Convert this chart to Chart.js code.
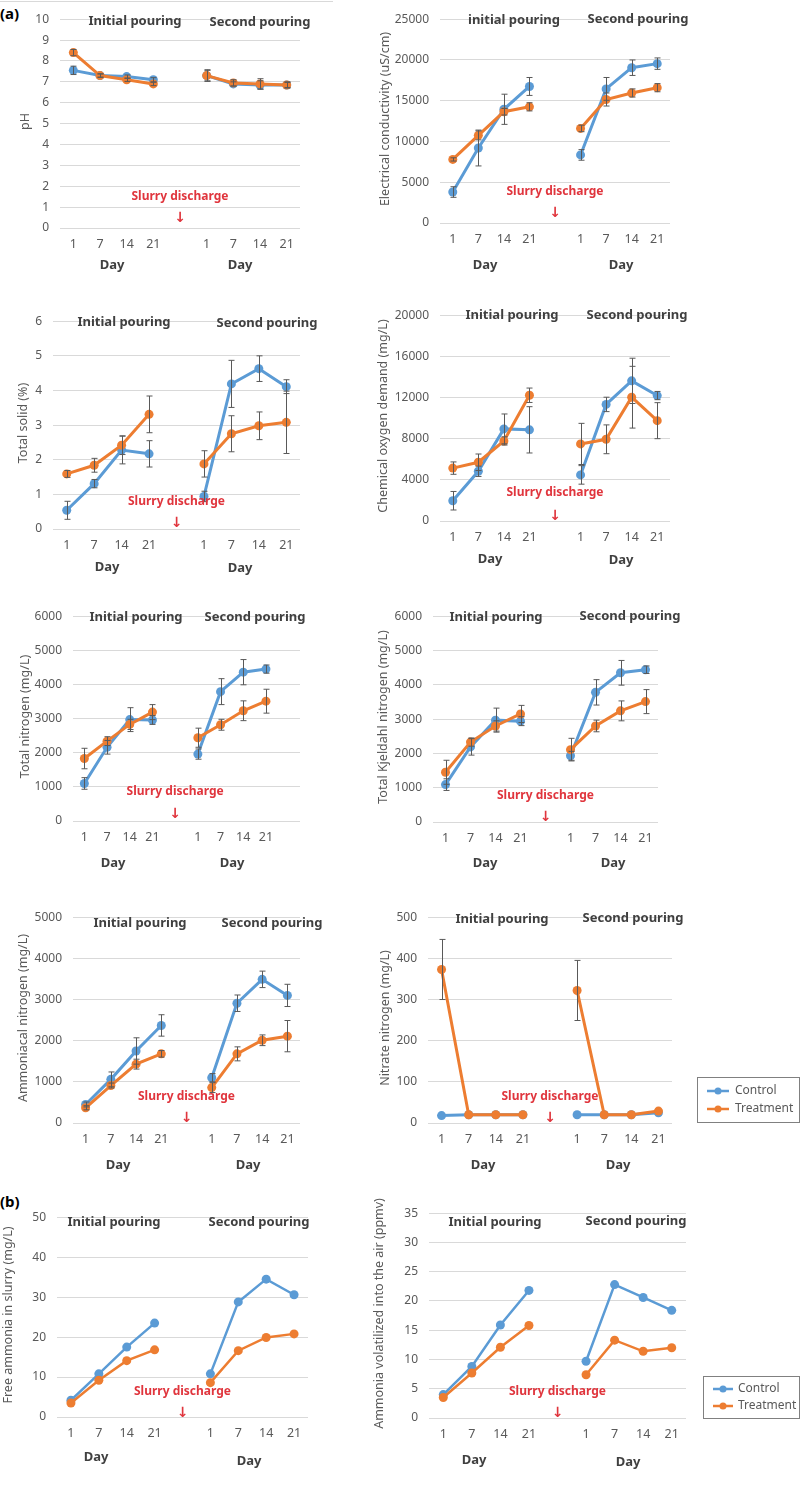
<!DOCTYPE html>
<html>
<head>
<meta charset="utf-8">
<script src="https://cdn.jsdelivr.net/npm/chart.js@4"></script>
<style>
body { margin:0; background:#fff; width:800px; height:1485px; position:relative; overflow:hidden; }
canvas { position:absolute; }
.tag { position:absolute; font: bold 15px 'Noto Sans', sans-serif; color:#000; }
.topline { position:absolute; left:0; top:1px; width:333px; height:1px; background:#d9d9d9; }
</style>
</head>
<body>
<div class="topline"></div>
<div class="tag" style="left:0;top:3px">(a)</div>
<div class="tag" style="left:0;top:1191px">(b)</div>
<script>
const dayLabels = ['1', '7', '14', '21', '', '1', '7', '14', '21'];
const dayLabelsTN = ['1', '7', '14', '21', '', '1', '7', '14', '21', ''];

// pH
const phControl = [7.55, 7.3, 7.25, 7.1, null, 7.3, 6.9, 6.85, 6.85];
const phControlErr = [0.2, 0.08, 0.08, 0.1, null, 0.25, 0.1, 0.2, 0.15];
const phTreatment = [8.4, 7.3, 7.1, 6.9, null, 7.3, 6.95, 6.9, 6.85];
const phTreatmentErr = [0.15, 0.08, 0.08, 0.08, null, 0.28, 0.15, 0.25, 0.12];

// electrical conductivity
const ecControl = [3800, 9200, 13950, 16750, null, 8350, 16450, 19050, 19550];
const ecControlErr = [650, 2200, 1850, 1100, null, 650, 1400, 950, 700];
const ecTreatment = [7800, 10750, 13650, 14250, null, 11600, 15150, 15950, 16600];
const ecTreatmentErr = [200, 550, 400, 500, null, 400, 800, 500, 500];

// total solid
const tsControl = [0.54, 1.31, 2.28, 2.17, null, 0.94, 4.19, 4.63, 4.11];
const tsControlErr = [0.26, 0.12, 0.4, 0.38, null, 0.15, 0.68, 0.37, 0.2];
const tsTreatment = [1.59, 1.84, 2.42, 3.31, null, 1.88, 2.75, 2.98, 3.08];
const tsTreatmentErr = [0.1, 0.2, 0.27, 0.53, null, 0.38, 0.52, 0.4, 0.9];

// chemical oxygen demand
const codControl = [1970, 4830, 8950, 8860, null, 4480, 11330, 13620, 12190];
const codControlErr = [900, 500, 1450, 2250, null, 900, 700, 2200, 400];
const codTreatment = [5140, 5710, 7780, 12220, null, 7490, 7940, 12030, 9750];
const codTreatmentErr = [600, 800, 400, 700, null, 2000, 1400, 3000, 1750];

// total nitrogen
const tnControl = [1100, 2160, 2970, 2960, null, 1960, 3790, 4360, 4450, null];
const tnControlErr = [170, 200, 350, 130, null, 150, 380, 370, 120, null];
const tnTreatment = [1830, 2340, 2830, 3190, null, 2440, 2820, 3230, 3510, null];
const tnTreatmentErr = [300, 130, 150, 220, null, 280, 160, 290, 350, null];

// total kjeldahl nitrogen
const tknControl = [1090, 2190, 2970, 2940, null, 1930, 3780, 4350, 4440];
const tknControlErr = [170, 240, 350, 130, null, 130, 370, 360, 110];
const tknTreatment = [1450, 2330, 2800, 3150, null, 2110, 2800, 3240, 3510];
const tknTreatmentErr = [350, 120, 150, 250, null, 330, 170, 290, 350];

// ammoniacal nitrogen
const anControl = [450, 1060, 1750, 2370, null, 1100, 2910, 3490, 3100];
const anControlErr = [60, 180, 320, 260, null, 100, 200, 200, 270];
const anTreatment = [370, 910, 1430, 1680, null, 860, 1680, 2010, 2110];
const anTreatmentErr = [50, 60, 120, 80, null, 120, 170, 130, 380];

// nitrate nitrogen
const nnControl = [18, 20, 20, 20, null, 20, 20, 20, 25];
const nnControlErr = [0, 0, 0, 0, null, 0, 0, 0, 0];
const nnTreatment = [373, 20, 20, 20, null, 322, 20, 20, 29];
const nnTreatmentErr = [73, 0, 0, 0, null, 73, 0, 0, 0];

// free ammonia (b)
const faControl = [4.2, 10.8, 17.5, 23.5, null, 10.8, 28.8, 34.5, 30.6];
const faTreatment = [3.5, 9.2, 14.1, 16.8, null, 8.6, 16.6, 19.9, 20.8];

// ammonia volatilized (b)
const avControl = [4.0, 8.8, 15.9, 21.8, null, 9.7, 22.8, 20.6, 18.4];
const avTreatment = [3.5, 7.7, 12.1, 15.8, null, 7.4, 13.3, 11.4, 12.0];

const BLUE = '#5b9bd5';
const ORANGE = '#ed7d31';
const FONT = "'Noto Sans', sans-serif";
Chart.defaults.font.family = FONT;

function makePanel(p) {
    let left = p.col === 0 ? 0 : 370;
    let right = p.legend ? 800 : p.x1 + 32;
    let top = p.yTop - 14;
    let bottom = p.yBot + 56;

    let cv = document.createElement('canvas');
    cv.width = right - left;
    cv.height = bottom - top;
    cv.style.left = left + 'px';
    cv.style.top = top + 'px';
    document.body.appendChild(cv);

    let lw = p.thin ? 2.5 : 3;

    let overlay = {
        id: 'overlay',
        afterDatasetsDraw(chart) {
            if (!p.errC) return;
            let ctx = chart.ctx;
            let xs = chart.scales.x, ys = chart.scales.y;
            ctx.save();
            ctx.strokeStyle = '#595959';
            ctx.lineWidth = 1;
            [[p.control, p.errC], [p.treatment, p.errT]].forEach(function (pair) {
                pair[0].forEach(function (v, i) {
                    let e = pair[1][i];
                    if (v === null || !e) return;
                    let x = Math.round(xs.getPixelForValue(i)) + 0.5;
                    let y1 = ys.getPixelForValue(v + e);
                    let y2 = ys.getPixelForValue(Math.max(0, v - e));
                    ctx.beginPath();
                    ctx.moveTo(x, y1); ctx.lineTo(x, y2);
                    ctx.moveTo(x - 3, y1); ctx.lineTo(x + 3, y1);
                    ctx.moveTo(x - 3, y2); ctx.lineTo(x + 3, y2);
                    ctx.stroke();
                });
            });
            ctx.restore();
        },
        afterDraw(chart) {
            let ctx = chart.ctx;
            let xs = chart.scales.x;
            ctx.save();
            ctx.textAlign = 'center';
            ctx.textBaseline = 'middle';

            // y title
            ctx.save();
            ctx.translate(p.titleX - left, (p.yTop + p.yBot) / 2 - top);
            ctx.rotate(-Math.PI / 2);
            ctx.fillStyle = '#595959';
            ctx.font = '12.5px ' + FONT;
            ctx.fillText(p.title, 0, 0);
            ctx.restore();

            // pouring headers
            ctx.fillStyle = '#404040';
            ctx.font = 'bold 13px ' + FONT;
            ctx.fillText(p.firstHead || 'Initial pouring', p.head1[0] - left, p.head1[1] - top);
            ctx.fillText('Second pouring', p.head2[0] - left, p.head2[1] - top);

            // day labels
            ctx.font = 'bold 13px ' + FONT;
            ctx.fillText('Day', p.day1[0] - left, p.day1[1] - top);
            ctx.fillText('Day', p.day2[0] - left, p.day2[1] - top);

            // slurry discharge marker in the gap category
            let gx = xs.getPixelForValue(4);
            ctx.fillStyle = '#e0353d';
            ctx.font = 'bold 12px ' + FONT;
            ctx.fillText('Slurry discharge', gx, p.slurryY - top);
            ctx.font = 'bold 14px DejaVu Sans';
            ctx.fillText('↓', gx, p.arrowY - top);

            // legend
            if (p.legend) {
                let L = p.legend;
                ctx.strokeStyle = '#808080';
                ctx.lineWidth = 1;
                ctx.strokeRect(L.box[0] - left + 0.5, L.box[1] - top + 0.5, L.box[2] - L.box[0], L.box[3] - L.box[1]);
                [['Control', BLUE, L.rows[0]], ['Treatment', ORANGE, L.rows[1]]].forEach(function (r) {
                    let y = r[2] - top;
                    ctx.strokeStyle = r[1];
                    ctx.lineWidth = 2.5;
                    ctx.beginPath();
                    ctx.moveTo(L.line[0] - left, y);
                    ctx.lineTo(L.line[1] - left, y);
                    ctx.stroke();
                    ctx.fillStyle = r[1];
                    ctx.beginPath();
                    ctx.arc((L.line[0] + L.line[1]) / 2 - left, y, 3.5, 0, Math.PI * 2);
                    ctx.fill();
                    ctx.fillStyle = '#595959';
                    ctx.font = '12px ' + FONT;
                    ctx.textAlign = 'left';
                    ctx.fillText(r[0], L.text - left, y);
                    ctx.textAlign = 'center';
                });
            }
            ctx.restore();
        }
    };

    new Chart(cv, {
        type: 'line',
        data: {
            labels: p.labels,
            datasets: [{
                label: 'Control',
                data: p.control,
                borderColor: BLUE,
                backgroundColor: BLUE,
                borderWidth: lw,
                pointRadius: 4.5,
                pointBorderWidth: 0,
                pointBackgroundColor: BLUE,
                spanGaps: false,
                tension: 0,
                order: 2
            }, {
                label: 'Treatment',
                data: p.treatment,
                borderColor: ORANGE,
                backgroundColor: ORANGE,
                borderWidth: lw,
                pointRadius: 4.5,
                pointBorderWidth: 0,
                pointBackgroundColor: ORANGE,
                spanGaps: false,
                tension: 0,
                order: 1
            }]
        },
        options: {
            responsive: false,
            animation: false,
            devicePixelRatio: 1,
            layout: { padding: { left: 0, top: p.yTop - top, right: right - p.x1, bottom: 0 } },
            plugins: { legend: { display: false }, tooltip: { enabled: false } },
            scales: {
                x: {
                    offset: true,
                    grid: { display: false, drawTicks: false },
                    border: { display: false },
                    ticks: { color: '#595959', font: { size: 12.5 }, padding: 9, autoSkip: false, maxRotation: 0 },
                    afterFit: function (s) { s.height = bottom - p.yBot; }
                },
                y: {
                    min: 0,
                    max: p.yMax,
                    ticks: { stepSize: p.yStep, color: '#595959', font: { size: 12 }, padding: 11, callback: function (v) { return v; } },
                    grid: { color: '#d9d9d9', drawTicks: false },
                    border: { display: false },
                    afterFit: function (s) { s.width = p.x0 - left; }
                }
            }
        },
        plugins: [overlay]
    });
}

makePanel({ col: 0, x0: 60, x1: 300, yTop: 15, yBot: 228, yMax: 10, yStep: 1, titleX: 25, title: 'pH',
    labels: dayLabels, control: phControl, treatment: phTreatment, errC: phControlErr, errT: phTreatmentErr,
    head1: [135, 21], head2: [260, 22], slurryY: 197, arrowY: 218, day1: [112, 265], day2: [240, 265] });

makePanel({ col: 1, x0: 440, x1: 670, yTop: 15, yBot: 223, yMax: 25000, yStep: 5000, titleX: 385, title: 'Electrical conductivity (uS/cm)',
    labels: dayLabels, control: ecControl, treatment: ecTreatment, errC: ecControlErr, errT: ecTreatmentErr, firstHead: 'initial pouring',
    head1: [514, 20], head2: [638, 19], slurryY: 192, arrowY: 213, day1: [485, 265], day2: [621, 265] });

makePanel({ col: 0, x0: 53, x1: 300, yTop: 317, yBot: 529, yMax: 6, yStep: 1, titleX: 23, title: 'Total solid (%)',
    labels: dayLabels, control: tsControl, treatment: tsTreatment, errC: tsControlErr, errT: tsTreatmentErr,
    head1: [124, 322], head2: [267, 323], slurryY: 502, arrowY: 523, day1: [107, 567], day2: [240, 568] });

makePanel({ col: 1, x0: 440, x1: 670, yTop: 311, yBot: 521, yMax: 20000, yStep: 4000, titleX: 383, title: 'Chemical oxygen demand (mg/L)',
    labels: dayLabels, control: codControl, treatment: codTreatment, errC: codControlErr, errT: codTreatmentErr,
    head1: [512, 315], head2: [637, 315], slurryY: 493, arrowY: 516, day1: [490, 559], day2: [621, 560] });

makePanel({ col: 0, x0: 73, x1: 300, yTop: 612, yBot: 821, yMax: 6000, yStep: 1000, titleX: 25, title: 'Total nitrogen (mg/L)',
    labels: dayLabelsTN, control: tnControl, treatment: tnTreatment, errC: tnControlErr, errT: tnTreatmentErr,
    head1: [136, 617], head2: [255, 617], slurryY: 792, arrowY: 814, day1: [113, 863], day2: [232, 863] });

makePanel({ col: 1, x0: 433, x1: 658, yTop: 612, yBot: 822, yMax: 6000, yStep: 1000, titleX: 383, title: 'Total Kjeldahl nitrogen (mg/L)',
    labels: dayLabels, control: tknControl, treatment: tknTreatment, errC: tknControlErr, errT: tknTreatmentErr,
    head1: [496, 617], head2: [630, 616], slurryY: 796, arrowY: 817, day1: [485, 863], day2: [613, 863] });

makePanel({ col: 0, x0: 73, x1: 300, yTop: 913, yBot: 1123, yMax: 5000, yStep: 1000, titleX: 23, title: 'Ammoniacal nitrogen (mg/L)',
    labels: dayLabels, control: anControl, treatment: anTreatment, errC: anControlErr, errT: anTreatmentErr,
    head1: [140, 923], head2: [272, 923], slurryY: 1097, arrowY: 1118, day1: [118, 1165], day2: [248, 1165] });

makePanel({ col: 1, x0: 428, x1: 672, yTop: 913, yBot: 1123, yMax: 500, yStep: 100, titleX: 385, title: 'Nitrate nitrogen (mg/L)',
    labels: dayLabels, control: nnControl, treatment: nnTreatment, errC: nnControlErr, errT: nnTreatmentErr,
    head1: [502, 919], head2: [633, 918], slurryY: 1097, arrowY: 1118, day1: [483, 1165], day2: [618, 1165],
    legend: { box: [697, 1077, 799, 1122], rows: [1091, 1109], line: [707, 729], text: 735 } });

makePanel({ col: 0, x0: 57, x1: 308, yTop: 1213, yBot: 1417, yMax: 50, yStep: 10, titleX: 8, title: 'Free ammonia in slurry (mg/L)',
    labels: dayLabels, control: faControl, treatment: faTreatment, thin: true,
    head1: [114, 1222], head2: [259, 1222], slurryY: 1392, arrowY: 1413, day1: [96, 1457], day2: [249, 1461] });

makePanel({ col: 1, x0: 429, x1: 686, yTop: 1209, yBot: 1418, yMax: 35, yStep: 5, titleX: 379, title: 'Ammonia volatilized into the air (ppmv)',
    labels: dayLabels, control: avControl, treatment: avTreatment, thin: true,
    head1: [495, 1222], head2: [636, 1221], slurryY: 1392, arrowY: 1413, day1: [474, 1460], day2: [628, 1462],
    legend: { box: [703, 1376, 799, 1418], rows: [1389, 1406], line: [713, 733], text: 738 } });
</script>
</body>
</html>
